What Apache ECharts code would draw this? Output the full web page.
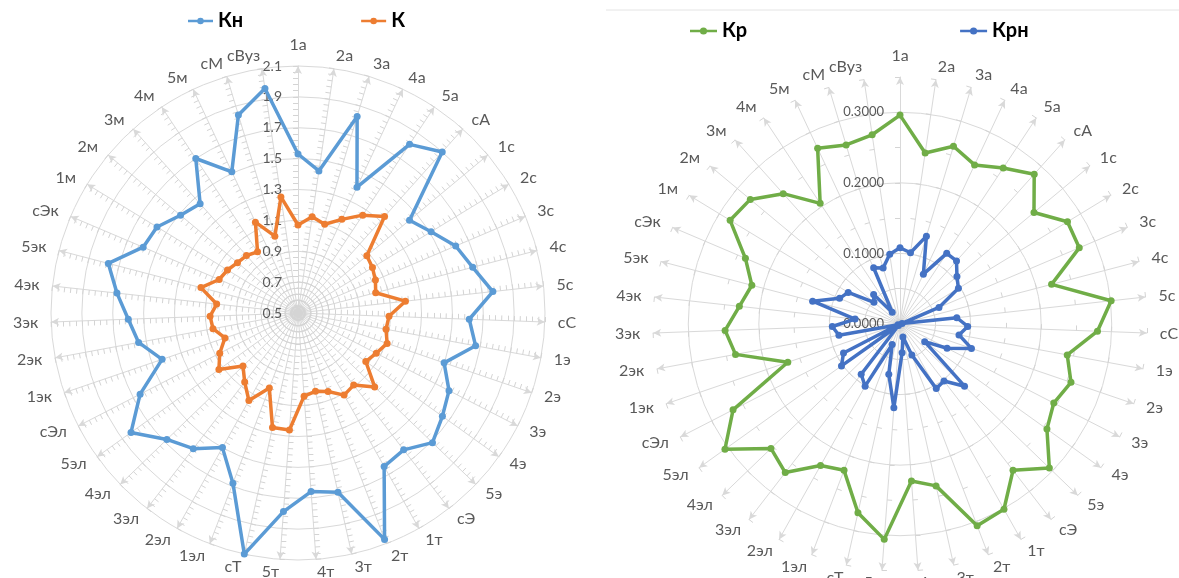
<!DOCTYPE html>
<html><head><meta charset="utf-8">
<script src="https://cdn.jsdelivr.net/npm/echarts@6/dist/echarts.min.js"></script>
<style>html,body{margin:0;padding:0;background:#fff}#c{width:1179px;height:578px}</style>
</head><body><div id="c"></div>
<script>
const categories = ['1а','2а','3а','4а','5а','сА','1с','2с','3с','4с','5с','сС','1э','2э','3э','4э','5э','сЭ','1т','2т','3т','4т','5т','сТ','1эл','2эл','3эл','4эл','5эл','сЭл','1эк','2эк','3эк','4эк','5эк','сЭк','1м','2м','3м','4м','5м','сМ','сВуз'];

const seriesKn = [1.53,1.43,1.83,1.40,1.81,1.90,1.44,1.51,1.61,1.67,1.77,1.61,1.67,1.50,1.60,1.65,1.71,1.62,1.64,2.07,1.69,1.66,1.79,2.10,1.68,1.50,1.61,1.68,1.83,1.65,1.43,1.55,1.60,1.68,1.77,1.59,1.57,1.49,1.45,1.70,1.51,1.84,1.97];
const seriesK  = [1.07,1.13,1.10,1.17,1.26,1.34,1.08,1.065,1.045,1.02,1.20,1.09,1.08,1.11,1.07,1.04,1.19,1.09,1.11,1.045,1.02,1.04,1.26,1.26,1.02,1.15,1.065,0.995,1.13,1.07,1.0,1.06,1.07,1.03,1.15,1.055,1.035,1.01,1.0,0.975,1.15,1.02,1.26];
const seriesKr = [0.296,0.245,0.263,0.249,0.265,0.285,0.247,0.278,0.276,0.222,0.301,0.280,0.241,0.256,0.245,0.256,0.294,0.262,0.301,0.306,0.235,0.223,0.306,0.274,0.222,0.230,0.266,0.254,0.305,0.266,0.168,0.237,0.248,0.229,0.217,0.238,0.282,0.276,0.248,0.205,0.275,0.265,0.271];
const seriesKrn = [0.108,0.102,0.130,0.078,0.120,0.120,0.105,0.097,0.060,0.003,0.081,0.096,0.085,0.107,0.075,0.043,0.127,0.102,0.105,0.047,0.019,0.041,0.119,0.073,0.031,0.101,0.090,0.003,0.102,0.090,0.003,0.088,0.096,0.064,0.128,0.093,0.086,0.048,0.056,0.020,0.088,0.083,0.100];

const leftTicks = ['0.5','0.7','0.9','1.1','1.3','1.5','1.7','1.9','2.1'];
const rightTicks = ['0.0000','0.1000','0.2000','0.3000'];

const n = categories.length;
// Excel draws clockwise; ECharts radar goes counter-clockwise, so reorder
const order = [0];
for (let i = n - 1; i >= 1; i--) order.push(i);
const reorder = arr => order.map(i => arr[i]);

function labelFmt(ticks) {
  return function (v) {
    for (const t of ticks) if (Math.abs(parseFloat(t) - v) < 1e-6) return t;
    return '';
  };
}
function radarCfg(center, min, max, splitNumber, ringColors, ticks, labelSize) {
  return {
    center: center, radius: 247, startAngle: 90, shape: 'circle', splitNumber: splitNumber,
    indicator: order.map((i, k) => ({ name: categories[i], min: min, max: max, axisLabel: { show: k === 0 } })),
    axisName: { color: '#595959', fontSize: 16, fontFamily: 'Lato' },
    nameGap: 13,
    axisLine: { show: true, lineStyle: { color: '#d9d9d9', width: 1 }, symbol: ['none', 'arrow'], symbolSize: [6, 8] },
    axisTick: { show: true, length: 5, lineStyle: { color: '#d4d4d4', width: 1 } },
    axisLabel: { show: false, color: '#595959', fontSize: labelSize, fontFamily: 'Lato', margin: 16, formatter: labelFmt(ticks) },
    splitLine: { show: true, lineStyle: { color: ringColors, width: 1 } },
    splitArea: { show: false }
  };
}
const T = 'rgba(0,0,0,0)';
const G = '#d9d9d9';
const ICON = 'path://M0,4.5H30V7.5H0Z M11,6A4,4 0 1 1 19,6A4,4 0 1 1 11,6Z';
const legendText = { fontSize: 20, fontWeight: 'bold', color: '#000', fontFamily: 'Lato' };

function mkSeries(radarIndex, name, values, color) {
  return {
    type: 'radar', radarIndex: radarIndex, name: name, symbol: 'circle', symbolSize: 7,
    lineStyle: { width: 3.5, color: color }, itemStyle: { color: color },
    data: [{ name: name, value: reorder(values) }]
  };
}

const chart = echarts.init(document.getElementById('c'));
chart.setOption({
  animation: false,
  backgroundColor: '#fff',
  graphic: [{ type: 'line', shape: { x1: 606, y1: 10, x2: 1179, y2: 10 }, style: { stroke: '#e4e4e4', lineWidth: 1 } }],
  legend: [
    { data: [{ name: 'Кн', icon: ICON }, { name: 'К', icon: ICON }], left: 183, top: 6, itemWidth: 25, itemHeight: 8, itemGap: 118, textStyle: legendText },
    { data: [{ name: 'Кр', icon: ICON }, { name: 'Крн', icon: ICON }], left: 685, top: 16, itemWidth: 27, itemHeight: 8, itemGap: 213, textStyle: legendText }
  ],
  radar: [
    radarCfg([298, 313], 0.5, 2.1, 40, [G, T, T, T, T], leftTicks, 14),
    radarCfg([900, 324], 0, 0.35, 7, [G, T], rightTicks, 13)
  ],
  series: [
    mkSeries(0, 'Кн', seriesKn, '#5B9BD5'),
    mkSeries(0, 'К', seriesK, '#ED7D31'),
    mkSeries(1, 'Кр', seriesKr, '#70AD47'),
    mkSeries(1, 'Крн', seriesKrn, '#4472C4')
  ]
});
</script></body></html>
